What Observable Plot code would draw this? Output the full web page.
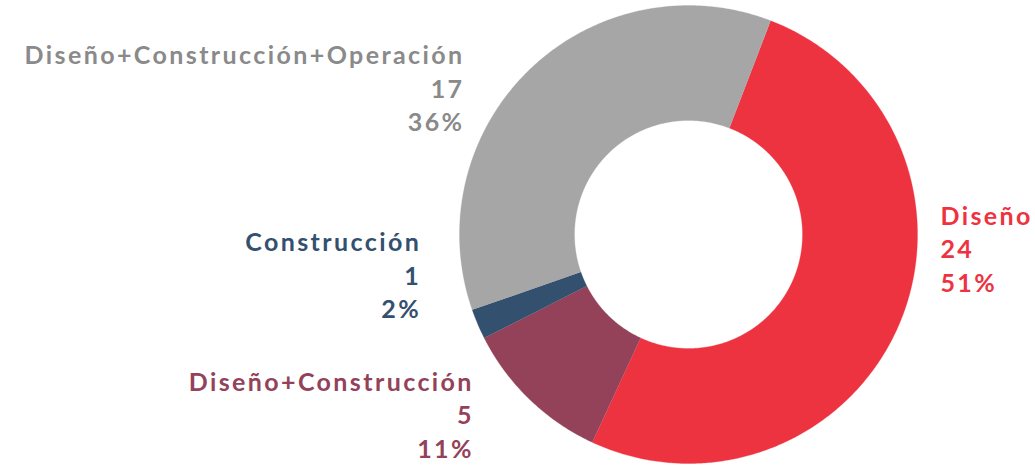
<!DOCTYPE html>
<html><head><meta charset="utf-8">
<script src="https://cdn.jsdelivr.net/npm/d3@7"></script>
<script src="https://cdn.jsdelivr.net/npm/@observablehq/plot@0.6"></script>
<style>html,body{margin:0;padding:0;background:#fff;overflow:hidden}
#chart svg text{letter-spacing:2.4px}</style>
</head><body><div id="chart"></div>
<script>
// ---- data ----
const categories = ["Diseño", "Diseño+Construcción", "Construcción", "Diseño+Construcción+Operación"];
const counts = [24, 5, 1, 17];
const sliceColors = ["#EE3340", "#934259", "#34506F", "#A6A6A6"];
const textColors = ["#EE3340", "#934259", "#34506F", "#8A8A8A"];

// ---- layout ----
const W = 1035, H = 466;
const cx = 688, cy = 234;          // pixel centre of the donut
const R = 229, r0 = 114;           // outer / inner radius (data units = px)
const startDeg = 21;

const total = d3.sum(counts);
const pie = d3.pie().sort(null).value(d => d.count)
  .startAngle(startDeg * Math.PI / 180)
  .endAngle(startDeg * Math.PI / 180 + 2 * Math.PI);
const rows = categories.map((c, i) => ({cat: c, count: counts[i], pct: Math.round(counts[i] / total * 100) + "%"}));
const arcs = pie(rows);

// polygon outline of each ring segment (geometry only)
const pts = [];
for (const a of arcs) {
  const n = Math.max(2, Math.ceil((a.endAngle - a.startAngle) * 180 / Math.PI * 2));
  for (let k = 0; k <= n; k++) {
    const t = a.startAngle + (a.endAngle - a.startAngle) * k / n;
    pts.push({cat: a.data.cat, x: R * Math.sin(t), y: R * Math.cos(t)});
  }
  for (let k = n; k >= 0; k--) {
    const t = a.startAngle + (a.endAngle - a.startAngle) * k / n;
    pts.push({cat: a.data.cat, x: r0 * Math.sin(t), y: r0 * Math.cos(t)});
  }
}

// label anchors: the outer point at mid-angle of each slice, nudged by dx/dy
const labelPlacement = {
  "Diseño": {anchor: "start", dx: 41, dy: -76},
  "Diseño+Construcción": {anchor: "end", dx: -55.6, dy: 14},
  "Construcción": {anchor: "end", dx: -56.6, dy: -50},
  "Diseño+Construcción+Operación": {anchor: "end", dx: -64.6, dy: 17}
};

const labelMarks = arcs.map((a, i) => {
  const mid = (a.startAngle + a.endAngle) / 2;
  const p = labelPlacement[a.data.cat];
  return Plot.text([a], {
    x: () => R * Math.sin(mid),
    y: () => R * Math.cos(mid),
    text: d => `${d.data.cat}\n${d.data.count}\n${d.data.pct}`,
    textAnchor: p.anchor,
    lineAnchor: "middle",
    dx: p.dx, dy: p.dy,
    fill: textColors[i],
    fontSize: 25,
    fontWeight: 700,
    lineHeight: 1.34,
    fontFamily: "Lato"
  });
});

const chart = Plot.plot({
  width: W, height: H,
  margin: 0,
  x: {domain: [-cx, W - cx], axis: null},
  y: {domain: [cy - H, cy], axis: null},
  color: {domain: categories, range: sliceColors},
  style: {background: "#fff"},
  marks: [
    Plot.line(pts, {x: "x", y: "y", z: "cat", fill: "cat", stroke: "cat", strokeWidth: 0.3, curve: "linear"}),
    ...labelMarks
  ]
});
document.getElementById("chart").appendChild(chart);
</script>
</body></html>
